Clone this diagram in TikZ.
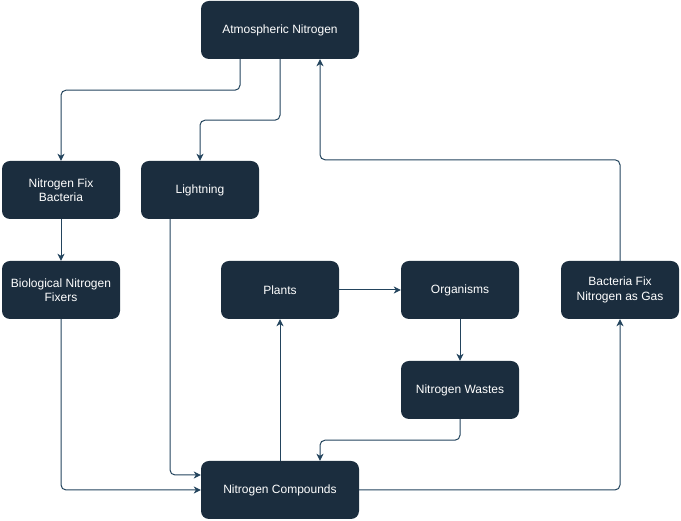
\documentclass[tikz,border=0pt]{standalone}
\usepackage{fontspec}
\setmainfont{Liberation Sans}
\definecolor{navy}{RGB}{27, 45, 62}
\definecolor{linkblue}{RGB}{35, 68, 93}
\usetikzlibrary{arrows.meta}
\usetikzlibrary{calc}
\usetikzlibrary{positioning}
\tikzset{
  stage/.style={
    fill=navy, text=white, rounded corners=8pt,
    minimum width=118pt, minimum height=58pt,
    align=center, inner sep=2pt,
    font=\fontsize{12}{14.5}\selectfont
  },
  wide/.style={minimum width=158pt},
  arrow/.style={-{Stealth[length=7pt,width=7pt,inset=2pt]}, draw=linkblue, line width=1pt, rounded corners=5pt}
}

\begin{document}
\begin{tikzpicture}[x=1pt,y=1pt]
  \useasboundingbox (0,0) rectangle (681,521);

  \node[stage, wide] (atm)    at (280,491) {Atmospheric Nitrogen};
  \node[stage]       (fixb)   at (61,331)  {Nitrogen Fix\\Bacteria};
  \node[stage]       (light)  at (200,331) {Lightning};
  \node[stage]       (bio)    at (61,231)  {Biological Nitrogen\\Fixers};
  \node[stage]       (plants) at (280,231) {Plants};
  \node[stage]       (org)    at (460,231) {Organisms};
  \node[stage]       (gas)    at (620,231) {Bacteria Fix\\Nitrogen as Gas};
  \node[stage]       (waste)  at (460,131) {Nitrogen Wastes};
  \node[stage, wide] (comp)   at (280,31)  {Nitrogen Compounds};

  % fixing
  \draw[arrow] ([xshift=-40pt]atm.south) -- ++(0,-31) -| (fixb.north);
  \draw[arrow] (atm.south) -- ++(0,-61) -| (light.north);
  \draw[arrow] (fixb) -- (bio);
  \draw[arrow] ([xshift=-30pt]light.south) |- ([yshift=15pt]comp.west);
  \draw[arrow] (bio.south) |- (comp.west);

  % uptake and waste
  \draw[arrow] (comp) -- (plants);
  \draw[arrow] (plants) -- (org);
  \draw[arrow] (org) -- (waste);
  \draw[arrow] (waste.south) -- ++(0,-21) -| ([xshift=40pt]comp.north);

  % back to the air
  \draw[arrow] (comp.east) -| (gas.south);
  \draw[arrow] (gas.north) -- ++(0,101) -| ([xshift=40pt]atm.south);
\end{tikzpicture}
\end{document}
